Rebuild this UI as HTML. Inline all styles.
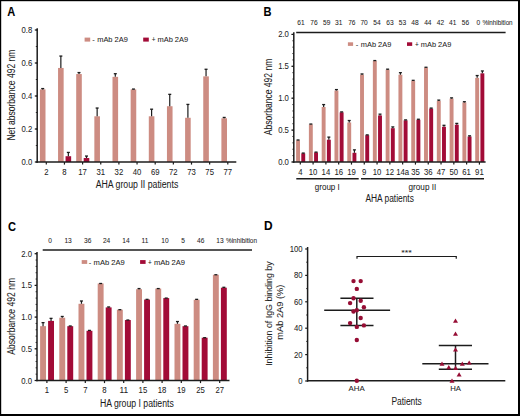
<!DOCTYPE html>
<html><head><meta charset="utf-8"><title>Figure</title>
<style>html,body{margin:0;padding:0;background:#fff;}body{width:520px;height:416px;overflow:hidden;font-family:"Liberation Sans", sans-serif;}svg{display:block;}</style>
</head><body>
<svg width="520" height="416" viewBox="0 0 520 416">
<g font-family='"Liberation Sans", sans-serif'>
<style>text{stroke:#1c1c1c;stroke-width:0.05px;}</style>
<rect x="0.00" y="0.00" width="520.00" height="416.00" fill="#ffffff"/>
<text x="7.20" y="15.90" font-size="12" text-anchor="start" font-weight="bold" fill="#000" textLength="8.00" lengthAdjust="spacingAndGlyphs">A</text>
<line x1="37.20" y1="28.20" x2="37.20" y2="162.75" stroke="#1c1c1c" stroke-width="1.5"/>
<line x1="34.80" y1="162.00" x2="37.20" y2="162.00" stroke="#1c1c1c" stroke-width="1.2"/>
<text x="32.20" y="165.08" font-size="8.6" text-anchor="end" font-weight="normal" fill="#1c1c1c" textLength="10.76" lengthAdjust="spacingAndGlyphs">0.0</text>
<line x1="34.80" y1="129.00" x2="37.20" y2="129.00" stroke="#1c1c1c" stroke-width="1.2"/>
<text x="32.20" y="132.08" font-size="8.6" text-anchor="end" font-weight="normal" fill="#1c1c1c" textLength="10.76" lengthAdjust="spacingAndGlyphs">0.2</text>
<line x1="34.80" y1="96.00" x2="37.20" y2="96.00" stroke="#1c1c1c" stroke-width="1.2"/>
<text x="32.20" y="99.08" font-size="8.6" text-anchor="end" font-weight="normal" fill="#1c1c1c" textLength="10.76" lengthAdjust="spacingAndGlyphs">0.4</text>
<line x1="34.80" y1="63.00" x2="37.20" y2="63.00" stroke="#1c1c1c" stroke-width="1.2"/>
<text x="32.20" y="66.08" font-size="8.6" text-anchor="end" font-weight="normal" fill="#1c1c1c" textLength="10.76" lengthAdjust="spacingAndGlyphs">0.6</text>
<line x1="34.80" y1="30.00" x2="37.20" y2="30.00" stroke="#1c1c1c" stroke-width="1.2"/>
<text x="32.20" y="33.08" font-size="8.6" text-anchor="end" font-weight="normal" fill="#1c1c1c" textLength="10.76" lengthAdjust="spacingAndGlyphs">0.8</text>
<line x1="35.80" y1="162.00" x2="37.20" y2="162.00" stroke="#1c1c1c" stroke-width="0.9"/>
<line x1="35.80" y1="145.50" x2="37.20" y2="145.50" stroke="#1c1c1c" stroke-width="0.9"/>
<line x1="35.80" y1="129.00" x2="37.20" y2="129.00" stroke="#1c1c1c" stroke-width="0.9"/>
<line x1="35.80" y1="112.50" x2="37.20" y2="112.50" stroke="#1c1c1c" stroke-width="0.9"/>
<line x1="35.80" y1="96.00" x2="37.20" y2="96.00" stroke="#1c1c1c" stroke-width="0.9"/>
<line x1="35.80" y1="79.50" x2="37.20" y2="79.50" stroke="#1c1c1c" stroke-width="0.9"/>
<line x1="35.80" y1="63.00" x2="37.20" y2="63.00" stroke="#1c1c1c" stroke-width="0.9"/>
<line x1="35.80" y1="46.50" x2="37.20" y2="46.50" stroke="#1c1c1c" stroke-width="0.9"/>
<line x1="35.80" y1="30.00" x2="37.20" y2="30.00" stroke="#1c1c1c" stroke-width="0.9"/>
<line x1="46.30" y1="162.00" x2="46.30" y2="164.60" stroke="#1c1c1c" stroke-width="1.2"/>
<text x="46.30" y="174.78" font-size="8.6" text-anchor="middle" font-weight="normal" fill="#1c1c1c" textLength="4.30" lengthAdjust="spacingAndGlyphs">2</text>
<line x1="64.45" y1="162.00" x2="64.45" y2="164.60" stroke="#1c1c1c" stroke-width="1.2"/>
<text x="64.45" y="174.78" font-size="8.6" text-anchor="middle" font-weight="normal" fill="#1c1c1c" textLength="4.30" lengthAdjust="spacingAndGlyphs">8</text>
<line x1="82.60" y1="162.00" x2="82.60" y2="164.60" stroke="#1c1c1c" stroke-width="1.2"/>
<text x="82.60" y="174.78" font-size="8.6" text-anchor="middle" font-weight="normal" fill="#1c1c1c" textLength="8.61" lengthAdjust="spacingAndGlyphs">17</text>
<line x1="100.75" y1="162.00" x2="100.75" y2="164.60" stroke="#1c1c1c" stroke-width="1.2"/>
<text x="100.75" y="174.78" font-size="8.6" text-anchor="middle" font-weight="normal" fill="#1c1c1c" textLength="8.61" lengthAdjust="spacingAndGlyphs">31</text>
<line x1="118.90" y1="162.00" x2="118.90" y2="164.60" stroke="#1c1c1c" stroke-width="1.2"/>
<text x="118.90" y="174.78" font-size="8.6" text-anchor="middle" font-weight="normal" fill="#1c1c1c" textLength="8.61" lengthAdjust="spacingAndGlyphs">32</text>
<line x1="137.05" y1="162.00" x2="137.05" y2="164.60" stroke="#1c1c1c" stroke-width="1.2"/>
<text x="137.05" y="174.78" font-size="8.6" text-anchor="middle" font-weight="normal" fill="#1c1c1c" textLength="8.61" lengthAdjust="spacingAndGlyphs">40</text>
<line x1="155.20" y1="162.00" x2="155.20" y2="164.60" stroke="#1c1c1c" stroke-width="1.2"/>
<text x="155.20" y="174.78" font-size="8.6" text-anchor="middle" font-weight="normal" fill="#1c1c1c" textLength="8.61" lengthAdjust="spacingAndGlyphs">69</text>
<line x1="173.35" y1="162.00" x2="173.35" y2="164.60" stroke="#1c1c1c" stroke-width="1.2"/>
<text x="173.35" y="174.78" font-size="8.6" text-anchor="middle" font-weight="normal" fill="#1c1c1c" textLength="8.61" lengthAdjust="spacingAndGlyphs">72</text>
<line x1="191.50" y1="162.00" x2="191.50" y2="164.60" stroke="#1c1c1c" stroke-width="1.2"/>
<text x="191.50" y="174.78" font-size="8.6" text-anchor="middle" font-weight="normal" fill="#1c1c1c" textLength="8.61" lengthAdjust="spacingAndGlyphs">73</text>
<line x1="209.65" y1="162.00" x2="209.65" y2="164.60" stroke="#1c1c1c" stroke-width="1.2"/>
<text x="209.65" y="174.78" font-size="8.6" text-anchor="middle" font-weight="normal" fill="#1c1c1c" textLength="8.61" lengthAdjust="spacingAndGlyphs">75</text>
<line x1="227.80" y1="162.00" x2="227.80" y2="164.60" stroke="#1c1c1c" stroke-width="1.2"/>
<text x="227.80" y="174.78" font-size="8.6" text-anchor="middle" font-weight="normal" fill="#1c1c1c" textLength="8.61" lengthAdjust="spacingAndGlyphs">77</text>
<rect x="39.90" y="89.40" width="5.60" height="72.60" fill="#cd8c82"/>
<line x1="42.70" y1="89.40" x2="42.70" y2="88.58" stroke="#1c1c1c" stroke-width="1.2"/>
<line x1="41.20" y1="88.58" x2="44.20" y2="88.58" stroke="#1c1c1c" stroke-width="1.3"/>
<rect x="58.05" y="67.95" width="5.60" height="94.05" fill="#cd8c82"/>
<line x1="60.85" y1="67.95" x2="60.85" y2="56.07" stroke="#1c1c1c" stroke-width="1.2"/>
<line x1="59.35" y1="56.07" x2="62.35" y2="56.07" stroke="#1c1c1c" stroke-width="1.3"/>
<rect x="65.55" y="156.22" width="5.60" height="5.78" fill="#a20b37"/>
<line x1="68.35" y1="156.22" x2="68.35" y2="152.43" stroke="#1c1c1c" stroke-width="1.2"/>
<line x1="66.85" y1="152.43" x2="69.85" y2="152.43" stroke="#1c1c1c" stroke-width="1.3"/>
<rect x="76.20" y="74.05" width="5.60" height="87.95" fill="#cd8c82"/>
<line x1="79.00" y1="74.05" x2="79.00" y2="72.57" stroke="#1c1c1c" stroke-width="1.2"/>
<line x1="77.50" y1="72.57" x2="80.50" y2="72.57" stroke="#1c1c1c" stroke-width="1.3"/>
<rect x="83.70" y="158.04" width="5.60" height="3.96" fill="#a20b37"/>
<line x1="86.50" y1="158.04" x2="86.50" y2="156.06" stroke="#1c1c1c" stroke-width="1.2"/>
<line x1="85.00" y1="156.06" x2="88.00" y2="156.06" stroke="#1c1c1c" stroke-width="1.3"/>
<rect x="94.35" y="116.29" width="5.60" height="45.71" fill="#cd8c82"/>
<line x1="97.15" y1="116.29" x2="97.15" y2="108.04" stroke="#1c1c1c" stroke-width="1.2"/>
<line x1="95.65" y1="108.04" x2="98.65" y2="108.04" stroke="#1c1c1c" stroke-width="1.3"/>
<rect x="112.50" y="76.86" width="5.60" height="85.14" fill="#cd8c82"/>
<line x1="115.30" y1="76.86" x2="115.30" y2="73.72" stroke="#1c1c1c" stroke-width="1.2"/>
<line x1="113.80" y1="73.72" x2="116.80" y2="73.72" stroke="#1c1c1c" stroke-width="1.3"/>
<rect x="130.65" y="89.40" width="5.60" height="72.60" fill="#cd8c82"/>
<line x1="133.45" y1="89.40" x2="133.45" y2="89.07" stroke="#1c1c1c" stroke-width="1.2"/>
<line x1="131.95" y1="89.07" x2="134.95" y2="89.07" stroke="#1c1c1c" stroke-width="1.3"/>
<rect x="148.80" y="116.29" width="5.60" height="45.71" fill="#cd8c82"/>
<line x1="151.60" y1="116.29" x2="151.60" y2="109.20" stroke="#1c1c1c" stroke-width="1.2"/>
<line x1="150.10" y1="109.20" x2="153.10" y2="109.20" stroke="#1c1c1c" stroke-width="1.3"/>
<rect x="166.95" y="106.23" width="5.60" height="55.77" fill="#cd8c82"/>
<line x1="169.75" y1="106.23" x2="169.75" y2="94.35" stroke="#1c1c1c" stroke-width="1.2"/>
<line x1="168.25" y1="94.35" x2="171.25" y2="94.35" stroke="#1c1c1c" stroke-width="1.3"/>
<rect x="185.10" y="117.78" width="5.60" height="44.22" fill="#cd8c82"/>
<line x1="187.90" y1="117.78" x2="187.90" y2="104.42" stroke="#1c1c1c" stroke-width="1.2"/>
<line x1="186.40" y1="104.42" x2="189.40" y2="104.42" stroke="#1c1c1c" stroke-width="1.3"/>
<rect x="203.25" y="76.36" width="5.60" height="85.64" fill="#cd8c82"/>
<line x1="206.05" y1="76.36" x2="206.05" y2="69.27" stroke="#1c1c1c" stroke-width="1.2"/>
<line x1="204.55" y1="69.27" x2="207.55" y2="69.27" stroke="#1c1c1c" stroke-width="1.3"/>
<rect x="221.40" y="118.28" width="5.60" height="43.72" fill="#cd8c82"/>
<line x1="224.20" y1="118.28" x2="224.20" y2="117.45" stroke="#1c1c1c" stroke-width="1.2"/>
<line x1="222.70" y1="117.45" x2="225.70" y2="117.45" stroke="#1c1c1c" stroke-width="1.3"/>
<line x1="36.60" y1="162.00" x2="236.30" y2="162.00" stroke="#1c1c1c" stroke-width="1.5"/>
<rect x="84.60" y="37.60" width="5.60" height="4.00" fill="#cd8c82"/>
<text x="94.80" y="42.32" font-size="7.6" text-anchor="end" font-weight="normal" fill="#1c1c1c">-</text>
<text x="97.20" y="42.32" font-size="7.6" text-anchor="start" font-weight="normal" fill="#1c1c1c" textLength="30.60" lengthAdjust="spacingAndGlyphs">mAb 2A9</text>
<rect x="143.20" y="37.60" width="5.60" height="4.00" fill="#a20b37"/>
<text x="155.50" y="42.32" font-size="6.46" text-anchor="end" font-weight="normal" fill="#1c1c1c">+</text>
<text x="157.50" y="42.32" font-size="7.6" text-anchor="start" font-weight="normal" fill="#1c1c1c" textLength="30.60" lengthAdjust="spacingAndGlyphs">mAb 2A9</text>
<text x="95.70" y="187.60" font-size="10" text-anchor="start" font-weight="normal" fill="#1c1c1c" textLength="82.60" lengthAdjust="spacingAndGlyphs">AHA group II patients</text>
<text x="0" y="0" font-size="10" text-anchor="middle" fill="#1c1c1c" textLength="91.00" lengthAdjust="spacingAndGlyphs" transform="translate(15.10,95.10) rotate(-90)">Net absorbance 492 nm</text>
<text x="263.50" y="15.70" font-size="12" text-anchor="start" font-weight="bold" fill="#000" textLength="8.00" lengthAdjust="spacingAndGlyphs">B</text>
<line x1="293.80" y1="32.30" x2="293.80" y2="162.75" stroke="#1c1c1c" stroke-width="1.5"/>
<line x1="291.40" y1="162.00" x2="293.80" y2="162.00" stroke="#1c1c1c" stroke-width="1.2"/>
<text x="288.90" y="165.08" font-size="8.6" text-anchor="end" font-weight="normal" fill="#1c1c1c" textLength="10.76" lengthAdjust="spacingAndGlyphs">0.0</text>
<line x1="291.40" y1="130.10" x2="293.80" y2="130.10" stroke="#1c1c1c" stroke-width="1.2"/>
<text x="288.90" y="133.18" font-size="8.6" text-anchor="end" font-weight="normal" fill="#1c1c1c" textLength="10.76" lengthAdjust="spacingAndGlyphs">0.5</text>
<line x1="291.40" y1="98.20" x2="293.80" y2="98.20" stroke="#1c1c1c" stroke-width="1.2"/>
<text x="288.90" y="101.28" font-size="8.6" text-anchor="end" font-weight="normal" fill="#1c1c1c" textLength="10.76" lengthAdjust="spacingAndGlyphs">1.0</text>
<line x1="291.40" y1="66.30" x2="293.80" y2="66.30" stroke="#1c1c1c" stroke-width="1.2"/>
<text x="288.90" y="69.38" font-size="8.6" text-anchor="end" font-weight="normal" fill="#1c1c1c" textLength="10.76" lengthAdjust="spacingAndGlyphs">1.5</text>
<line x1="291.40" y1="34.40" x2="293.80" y2="34.40" stroke="#1c1c1c" stroke-width="1.2"/>
<text x="288.90" y="37.48" font-size="8.6" text-anchor="end" font-weight="normal" fill="#1c1c1c" textLength="10.76" lengthAdjust="spacingAndGlyphs">2.0</text>
<line x1="292.40" y1="162.00" x2="293.80" y2="162.00" stroke="#1c1c1c" stroke-width="0.9"/>
<line x1="292.40" y1="155.62" x2="293.80" y2="155.62" stroke="#1c1c1c" stroke-width="0.9"/>
<line x1="292.40" y1="149.24" x2="293.80" y2="149.24" stroke="#1c1c1c" stroke-width="0.9"/>
<line x1="292.40" y1="142.86" x2="293.80" y2="142.86" stroke="#1c1c1c" stroke-width="0.9"/>
<line x1="292.40" y1="136.48" x2="293.80" y2="136.48" stroke="#1c1c1c" stroke-width="0.9"/>
<line x1="292.40" y1="130.10" x2="293.80" y2="130.10" stroke="#1c1c1c" stroke-width="0.9"/>
<line x1="292.40" y1="123.72" x2="293.80" y2="123.72" stroke="#1c1c1c" stroke-width="0.9"/>
<line x1="292.40" y1="117.34" x2="293.80" y2="117.34" stroke="#1c1c1c" stroke-width="0.9"/>
<line x1="292.40" y1="110.96" x2="293.80" y2="110.96" stroke="#1c1c1c" stroke-width="0.9"/>
<line x1="292.40" y1="104.58" x2="293.80" y2="104.58" stroke="#1c1c1c" stroke-width="0.9"/>
<line x1="292.40" y1="98.20" x2="293.80" y2="98.20" stroke="#1c1c1c" stroke-width="0.9"/>
<line x1="292.40" y1="91.82" x2="293.80" y2="91.82" stroke="#1c1c1c" stroke-width="0.9"/>
<line x1="292.40" y1="85.44" x2="293.80" y2="85.44" stroke="#1c1c1c" stroke-width="0.9"/>
<line x1="292.40" y1="79.06" x2="293.80" y2="79.06" stroke="#1c1c1c" stroke-width="0.9"/>
<line x1="292.40" y1="72.68" x2="293.80" y2="72.68" stroke="#1c1c1c" stroke-width="0.9"/>
<line x1="292.40" y1="66.30" x2="293.80" y2="66.30" stroke="#1c1c1c" stroke-width="0.9"/>
<line x1="292.40" y1="59.92" x2="293.80" y2="59.92" stroke="#1c1c1c" stroke-width="0.9"/>
<line x1="292.40" y1="53.54" x2="293.80" y2="53.54" stroke="#1c1c1c" stroke-width="0.9"/>
<line x1="292.40" y1="47.16" x2="293.80" y2="47.16" stroke="#1c1c1c" stroke-width="0.9"/>
<line x1="292.40" y1="40.78" x2="293.80" y2="40.78" stroke="#1c1c1c" stroke-width="0.9"/>
<line x1="292.40" y1="34.40" x2="293.80" y2="34.40" stroke="#1c1c1c" stroke-width="0.9"/>
<line x1="300.30" y1="162.00" x2="300.30" y2="164.60" stroke="#1c1c1c" stroke-width="1.2"/>
<text x="300.30" y="174.88" font-size="8.6" text-anchor="middle" font-weight="normal" fill="#1c1c1c" textLength="4.30" lengthAdjust="spacingAndGlyphs">4</text>
<line x1="313.09" y1="162.00" x2="313.09" y2="164.60" stroke="#1c1c1c" stroke-width="1.2"/>
<text x="313.09" y="174.88" font-size="8.6" text-anchor="middle" font-weight="normal" fill="#1c1c1c" textLength="8.61" lengthAdjust="spacingAndGlyphs">10</text>
<line x1="325.89" y1="162.00" x2="325.89" y2="164.60" stroke="#1c1c1c" stroke-width="1.2"/>
<text x="325.89" y="174.88" font-size="8.6" text-anchor="middle" font-weight="normal" fill="#1c1c1c" textLength="8.61" lengthAdjust="spacingAndGlyphs">14</text>
<line x1="338.68" y1="162.00" x2="338.68" y2="164.60" stroke="#1c1c1c" stroke-width="1.2"/>
<text x="338.68" y="174.88" font-size="8.6" text-anchor="middle" font-weight="normal" fill="#1c1c1c" textLength="8.61" lengthAdjust="spacingAndGlyphs">16</text>
<line x1="351.48" y1="162.00" x2="351.48" y2="164.60" stroke="#1c1c1c" stroke-width="1.2"/>
<text x="351.48" y="174.88" font-size="8.6" text-anchor="middle" font-weight="normal" fill="#1c1c1c" textLength="8.61" lengthAdjust="spacingAndGlyphs">19</text>
<line x1="364.27" y1="162.00" x2="364.27" y2="164.60" stroke="#1c1c1c" stroke-width="1.2"/>
<text x="364.27" y="174.88" font-size="8.6" text-anchor="middle" font-weight="normal" fill="#1c1c1c" textLength="4.30" lengthAdjust="spacingAndGlyphs">9</text>
<line x1="377.06" y1="162.00" x2="377.06" y2="164.60" stroke="#1c1c1c" stroke-width="1.2"/>
<text x="377.06" y="174.88" font-size="8.6" text-anchor="middle" font-weight="normal" fill="#1c1c1c" textLength="8.61" lengthAdjust="spacingAndGlyphs">10</text>
<line x1="389.86" y1="162.00" x2="389.86" y2="164.60" stroke="#1c1c1c" stroke-width="1.2"/>
<text x="389.86" y="174.88" font-size="8.6" text-anchor="middle" font-weight="normal" fill="#1c1c1c" textLength="8.61" lengthAdjust="spacingAndGlyphs">12</text>
<line x1="402.65" y1="162.00" x2="402.65" y2="164.60" stroke="#1c1c1c" stroke-width="1.2"/>
<text x="402.65" y="174.88" font-size="8.6" text-anchor="middle" font-weight="normal" fill="#1c1c1c" textLength="12.91" lengthAdjust="spacingAndGlyphs">14a</text>
<line x1="415.45" y1="162.00" x2="415.45" y2="164.60" stroke="#1c1c1c" stroke-width="1.2"/>
<text x="415.45" y="174.88" font-size="8.6" text-anchor="middle" font-weight="normal" fill="#1c1c1c" textLength="8.61" lengthAdjust="spacingAndGlyphs">35</text>
<line x1="428.24" y1="162.00" x2="428.24" y2="164.60" stroke="#1c1c1c" stroke-width="1.2"/>
<text x="428.24" y="174.88" font-size="8.6" text-anchor="middle" font-weight="normal" fill="#1c1c1c" textLength="8.61" lengthAdjust="spacingAndGlyphs">36</text>
<line x1="441.03" y1="162.00" x2="441.03" y2="164.60" stroke="#1c1c1c" stroke-width="1.2"/>
<text x="441.03" y="174.88" font-size="8.6" text-anchor="middle" font-weight="normal" fill="#1c1c1c" textLength="8.61" lengthAdjust="spacingAndGlyphs">47</text>
<line x1="453.83" y1="162.00" x2="453.83" y2="164.60" stroke="#1c1c1c" stroke-width="1.2"/>
<text x="453.83" y="174.88" font-size="8.6" text-anchor="middle" font-weight="normal" fill="#1c1c1c" textLength="8.61" lengthAdjust="spacingAndGlyphs">50</text>
<line x1="466.62" y1="162.00" x2="466.62" y2="164.60" stroke="#1c1c1c" stroke-width="1.2"/>
<text x="466.62" y="174.88" font-size="8.6" text-anchor="middle" font-weight="normal" fill="#1c1c1c" textLength="8.61" lengthAdjust="spacingAndGlyphs">61</text>
<line x1="479.42" y1="162.00" x2="479.42" y2="164.60" stroke="#1c1c1c" stroke-width="1.2"/>
<text x="479.42" y="174.88" font-size="8.6" text-anchor="middle" font-weight="normal" fill="#1c1c1c" textLength="8.61" lengthAdjust="spacingAndGlyphs">91</text>
<rect x="296.10" y="140.31" width="3.90" height="21.69" fill="#cd8c82"/>
<line x1="298.05" y1="140.31" x2="298.05" y2="139.99" stroke="#1c1c1c" stroke-width="1.2"/>
<line x1="296.55" y1="139.99" x2="299.55" y2="139.99" stroke="#1c1c1c" stroke-width="1.3"/>
<rect x="301.30" y="153.39" width="3.90" height="8.61" fill="#a20b37"/>
<line x1="303.25" y1="153.39" x2="303.25" y2="153.07" stroke="#1c1c1c" stroke-width="1.2"/>
<line x1="301.75" y1="153.07" x2="304.75" y2="153.07" stroke="#1c1c1c" stroke-width="1.3"/>
<rect x="308.89" y="124.36" width="3.90" height="37.64" fill="#cd8c82"/>
<line x1="310.84" y1="124.36" x2="310.84" y2="124.04" stroke="#1c1c1c" stroke-width="1.2"/>
<line x1="309.34" y1="124.04" x2="312.34" y2="124.04" stroke="#1c1c1c" stroke-width="1.3"/>
<rect x="314.09" y="152.43" width="3.90" height="9.57" fill="#a20b37"/>
<line x1="316.04" y1="152.43" x2="316.04" y2="152.11" stroke="#1c1c1c" stroke-width="1.2"/>
<line x1="314.54" y1="152.11" x2="317.54" y2="152.11" stroke="#1c1c1c" stroke-width="1.3"/>
<rect x="321.69" y="107.00" width="3.90" height="55.00" fill="#cd8c82"/>
<line x1="323.64" y1="107.00" x2="323.64" y2="104.58" stroke="#1c1c1c" stroke-width="1.2"/>
<line x1="322.14" y1="104.58" x2="325.14" y2="104.58" stroke="#1c1c1c" stroke-width="1.3"/>
<rect x="326.89" y="139.73" width="3.90" height="22.27" fill="#a20b37"/>
<line x1="328.84" y1="139.73" x2="328.84" y2="137.12" stroke="#1c1c1c" stroke-width="1.2"/>
<line x1="327.34" y1="137.12" x2="330.34" y2="137.12" stroke="#1c1c1c" stroke-width="1.3"/>
<rect x="334.48" y="90.54" width="3.90" height="71.46" fill="#cd8c82"/>
<line x1="336.43" y1="90.54" x2="336.43" y2="89.59" stroke="#1c1c1c" stroke-width="1.2"/>
<line x1="334.93" y1="89.59" x2="337.93" y2="89.59" stroke="#1c1c1c" stroke-width="1.3"/>
<rect x="339.68" y="112.36" width="3.90" height="49.64" fill="#a20b37"/>
<line x1="341.63" y1="112.36" x2="341.63" y2="111.92" stroke="#1c1c1c" stroke-width="1.2"/>
<line x1="340.13" y1="111.92" x2="343.13" y2="111.92" stroke="#1c1c1c" stroke-width="1.3"/>
<rect x="347.28" y="122.44" width="3.90" height="39.56" fill="#cd8c82"/>
<line x1="349.23" y1="122.44" x2="349.23" y2="120.53" stroke="#1c1c1c" stroke-width="1.2"/>
<line x1="347.73" y1="120.53" x2="350.73" y2="120.53" stroke="#1c1c1c" stroke-width="1.3"/>
<rect x="352.48" y="152.81" width="3.90" height="9.19" fill="#a20b37"/>
<line x1="354.43" y1="152.81" x2="354.43" y2="149.88" stroke="#1c1c1c" stroke-width="1.2"/>
<line x1="352.93" y1="149.88" x2="355.93" y2="149.88" stroke="#1c1c1c" stroke-width="1.3"/>
<rect x="360.07" y="74.72" width="3.90" height="87.28" fill="#cd8c82"/>
<line x1="362.02" y1="74.72" x2="362.02" y2="73.96" stroke="#1c1c1c" stroke-width="1.2"/>
<line x1="360.52" y1="73.96" x2="363.52" y2="73.96" stroke="#1c1c1c" stroke-width="1.3"/>
<rect x="365.27" y="135.20" width="3.90" height="26.80" fill="#a20b37"/>
<line x1="367.22" y1="135.20" x2="367.22" y2="134.88" stroke="#1c1c1c" stroke-width="1.2"/>
<line x1="365.72" y1="134.88" x2="368.72" y2="134.88" stroke="#1c1c1c" stroke-width="1.3"/>
<rect x="372.86" y="60.94" width="3.90" height="101.06" fill="#cd8c82"/>
<line x1="374.81" y1="60.94" x2="374.81" y2="60.56" stroke="#1c1c1c" stroke-width="1.2"/>
<line x1="373.31" y1="60.56" x2="376.31" y2="60.56" stroke="#1c1c1c" stroke-width="1.3"/>
<rect x="378.06" y="115.43" width="3.90" height="46.57" fill="#a20b37"/>
<line x1="380.01" y1="115.43" x2="380.01" y2="114.15" stroke="#1c1c1c" stroke-width="1.2"/>
<line x1="378.51" y1="114.15" x2="381.51" y2="114.15" stroke="#1c1c1c" stroke-width="1.3"/>
<rect x="385.66" y="69.68" width="3.90" height="92.32" fill="#cd8c82"/>
<line x1="387.61" y1="69.68" x2="387.61" y2="69.17" stroke="#1c1c1c" stroke-width="1.2"/>
<line x1="386.11" y1="69.17" x2="389.11" y2="69.17" stroke="#1c1c1c" stroke-width="1.3"/>
<rect x="390.86" y="128.19" width="3.90" height="33.81" fill="#a20b37"/>
<line x1="392.81" y1="128.19" x2="392.81" y2="126.91" stroke="#1c1c1c" stroke-width="1.2"/>
<line x1="391.31" y1="126.91" x2="394.31" y2="126.91" stroke="#1c1c1c" stroke-width="1.3"/>
<rect x="398.45" y="74.72" width="3.90" height="87.28" fill="#cd8c82"/>
<line x1="400.40" y1="74.72" x2="400.40" y2="72.68" stroke="#1c1c1c" stroke-width="1.2"/>
<line x1="398.90" y1="72.68" x2="401.90" y2="72.68" stroke="#1c1c1c" stroke-width="1.3"/>
<rect x="403.65" y="120.34" width="3.90" height="41.66" fill="#a20b37"/>
<line x1="405.60" y1="120.34" x2="405.60" y2="119.89" stroke="#1c1c1c" stroke-width="1.2"/>
<line x1="404.10" y1="119.89" x2="407.10" y2="119.89" stroke="#1c1c1c" stroke-width="1.3"/>
<rect x="411.25" y="80.97" width="3.90" height="81.03" fill="#cd8c82"/>
<line x1="413.20" y1="80.97" x2="413.20" y2="80.34" stroke="#1c1c1c" stroke-width="1.2"/>
<line x1="411.70" y1="80.34" x2="414.70" y2="80.34" stroke="#1c1c1c" stroke-width="1.3"/>
<rect x="416.45" y="119.76" width="3.90" height="42.24" fill="#a20b37"/>
<line x1="418.40" y1="119.76" x2="418.40" y2="119.25" stroke="#1c1c1c" stroke-width="1.2"/>
<line x1="416.90" y1="119.25" x2="419.90" y2="119.25" stroke="#1c1c1c" stroke-width="1.3"/>
<rect x="424.04" y="67.58" width="3.90" height="94.42" fill="#cd8c82"/>
<line x1="425.99" y1="67.58" x2="425.99" y2="67.26" stroke="#1c1c1c" stroke-width="1.2"/>
<line x1="424.49" y1="67.26" x2="427.49" y2="67.26" stroke="#1c1c1c" stroke-width="1.3"/>
<rect x="429.24" y="108.60" width="3.90" height="53.40" fill="#a20b37"/>
<line x1="431.19" y1="108.60" x2="431.19" y2="108.09" stroke="#1c1c1c" stroke-width="1.2"/>
<line x1="429.69" y1="108.09" x2="432.69" y2="108.09" stroke="#1c1c1c" stroke-width="1.3"/>
<rect x="436.83" y="100.88" width="3.90" height="61.12" fill="#cd8c82"/>
<line x1="438.78" y1="100.88" x2="438.78" y2="100.11" stroke="#1c1c1c" stroke-width="1.2"/>
<line x1="437.28" y1="100.11" x2="440.28" y2="100.11" stroke="#1c1c1c" stroke-width="1.3"/>
<rect x="442.03" y="126.72" width="3.90" height="35.28" fill="#a20b37"/>
<line x1="443.98" y1="126.72" x2="443.98" y2="125.31" stroke="#1c1c1c" stroke-width="1.2"/>
<line x1="442.48" y1="125.31" x2="445.48" y2="125.31" stroke="#1c1c1c" stroke-width="1.3"/>
<rect x="449.63" y="98.58" width="3.90" height="63.42" fill="#cd8c82"/>
<line x1="451.58" y1="98.58" x2="451.58" y2="97.88" stroke="#1c1c1c" stroke-width="1.2"/>
<line x1="450.08" y1="97.88" x2="453.08" y2="97.88" stroke="#1c1c1c" stroke-width="1.3"/>
<rect x="454.83" y="124.68" width="3.90" height="37.32" fill="#a20b37"/>
<line x1="456.78" y1="124.68" x2="456.78" y2="123.40" stroke="#1c1c1c" stroke-width="1.2"/>
<line x1="455.28" y1="123.40" x2="458.28" y2="123.40" stroke="#1c1c1c" stroke-width="1.3"/>
<rect x="462.42" y="102.41" width="3.90" height="59.59" fill="#cd8c82"/>
<line x1="464.37" y1="102.41" x2="464.37" y2="101.71" stroke="#1c1c1c" stroke-width="1.2"/>
<line x1="462.87" y1="101.71" x2="465.87" y2="101.71" stroke="#1c1c1c" stroke-width="1.3"/>
<rect x="467.62" y="136.48" width="3.90" height="25.52" fill="#a20b37"/>
<line x1="469.57" y1="136.48" x2="469.57" y2="135.84" stroke="#1c1c1c" stroke-width="1.2"/>
<line x1="468.07" y1="135.84" x2="471.07" y2="135.84" stroke="#1c1c1c" stroke-width="1.3"/>
<rect x="475.22" y="77.85" width="3.90" height="84.15" fill="#cd8c82"/>
<line x1="477.17" y1="77.85" x2="477.17" y2="75.55" stroke="#1c1c1c" stroke-width="1.2"/>
<line x1="475.67" y1="75.55" x2="478.67" y2="75.55" stroke="#1c1c1c" stroke-width="1.3"/>
<rect x="480.42" y="73.32" width="3.90" height="88.68" fill="#a20b37"/>
<line x1="482.37" y1="73.32" x2="482.37" y2="70.96" stroke="#1c1c1c" stroke-width="1.2"/>
<line x1="480.87" y1="70.96" x2="483.87" y2="70.96" stroke="#1c1c1c" stroke-width="1.3"/>
<line x1="293.20" y1="162.00" x2="485.60" y2="162.00" stroke="#1c1c1c" stroke-width="1.5"/>
<line x1="296.20" y1="32.50" x2="505.60" y2="32.50" stroke="#1c1c1c" stroke-width="1.5"/>
<text x="300.90" y="24.86" font-size="6.6" text-anchor="middle" font-weight="normal" fill="#1c1c1c">61</text>
<text x="314.00" y="24.86" font-size="6.6" text-anchor="middle" font-weight="normal" fill="#1c1c1c">76</text>
<text x="326.70" y="24.86" font-size="6.6" text-anchor="middle" font-weight="normal" fill="#1c1c1c">59</text>
<text x="338.70" y="24.86" font-size="6.6" text-anchor="middle" font-weight="normal" fill="#1c1c1c">31</text>
<text x="351.80" y="24.86" font-size="6.6" text-anchor="middle" font-weight="normal" fill="#1c1c1c">76</text>
<text x="364.10" y="24.86" font-size="6.6" text-anchor="middle" font-weight="normal" fill="#1c1c1c">70</text>
<text x="377.00" y="24.86" font-size="6.6" text-anchor="middle" font-weight="normal" fill="#1c1c1c">54</text>
<text x="389.90" y="24.86" font-size="6.6" text-anchor="middle" font-weight="normal" fill="#1c1c1c">63</text>
<text x="402.40" y="24.86" font-size="6.6" text-anchor="middle" font-weight="normal" fill="#1c1c1c">53</text>
<text x="415.00" y="24.86" font-size="6.6" text-anchor="middle" font-weight="normal" fill="#1c1c1c">48</text>
<text x="427.80" y="24.86" font-size="6.6" text-anchor="middle" font-weight="normal" fill="#1c1c1c">44</text>
<text x="440.50" y="24.86" font-size="6.6" text-anchor="middle" font-weight="normal" fill="#1c1c1c">42</text>
<text x="452.70" y="24.86" font-size="6.6" text-anchor="middle" font-weight="normal" fill="#1c1c1c">41</text>
<text x="465.40" y="24.86" font-size="6.6" text-anchor="middle" font-weight="normal" fill="#1c1c1c">56</text>
<text x="478.30" y="24.86" font-size="6.6" text-anchor="middle" font-weight="normal" fill="#1c1c1c">0</text>
<text x="482.40" y="24.86" font-size="6.6" text-anchor="start" font-weight="normal" fill="#1c1c1c" textLength="30.20" lengthAdjust="spacingAndGlyphs">%inhibition</text>
<rect x="347.90" y="42.30" width="5.20" height="3.60" fill="#cd8c82"/>
<text x="358.40" y="46.82" font-size="7.6" text-anchor="end" font-weight="normal" fill="#1c1c1c">-</text>
<text x="360.80" y="46.82" font-size="7.6" text-anchor="start" font-weight="normal" fill="#1c1c1c" textLength="30.50" lengthAdjust="spacingAndGlyphs">mAb 2A9</text>
<rect x="407.00" y="42.30" width="5.20" height="3.60" fill="#a20b37"/>
<text x="418.80" y="46.82" font-size="6.46" text-anchor="end" font-weight="normal" fill="#1c1c1c">+</text>
<text x="420.80" y="46.82" font-size="7.6" text-anchor="start" font-weight="normal" fill="#1c1c1c" textLength="30.50" lengthAdjust="spacingAndGlyphs">mAb 2A9</text>
<line x1="296.30" y1="178.80" x2="358.70" y2="178.80" stroke="#1c1c1c" stroke-width="1.4"/>
<line x1="361.00" y1="178.80" x2="484.00" y2="178.80" stroke="#1c1c1c" stroke-width="1.4"/>
<text x="314.80" y="189.60" font-size="8.4" text-anchor="start" font-weight="normal" fill="#1c1c1c" textLength="25.00" lengthAdjust="spacingAndGlyphs">group I</text>
<text x="408.60" y="189.90" font-size="8.4" text-anchor="start" font-weight="normal" fill="#1c1c1c" textLength="27.60" lengthAdjust="spacingAndGlyphs">group II</text>
<text x="365.40" y="202.40" font-size="10" text-anchor="start" font-weight="normal" fill="#1c1c1c" textLength="48.50" lengthAdjust="spacingAndGlyphs">AHA patients</text>
<text x="0" y="0" font-size="10" text-anchor="middle" fill="#1c1c1c" textLength="76.50" lengthAdjust="spacingAndGlyphs" transform="translate(272.00,96.90) rotate(-90)">Absorbance 492 nm</text>
<text x="8.00" y="230.50" font-size="12" text-anchor="start" font-weight="bold" fill="#000" textLength="8.00" lengthAdjust="spacingAndGlyphs">C</text>
<line x1="37.00" y1="252.00" x2="37.00" y2="381.25" stroke="#1c1c1c" stroke-width="1.5"/>
<line x1="34.60" y1="380.50" x2="37.00" y2="380.50" stroke="#1c1c1c" stroke-width="1.2"/>
<text x="32.00" y="383.58" font-size="8.6" text-anchor="end" font-weight="normal" fill="#1c1c1c" textLength="10.76" lengthAdjust="spacingAndGlyphs">0.0</text>
<line x1="34.60" y1="348.80" x2="37.00" y2="348.80" stroke="#1c1c1c" stroke-width="1.2"/>
<text x="32.00" y="351.88" font-size="8.6" text-anchor="end" font-weight="normal" fill="#1c1c1c" textLength="10.76" lengthAdjust="spacingAndGlyphs">0.5</text>
<line x1="34.60" y1="317.10" x2="37.00" y2="317.10" stroke="#1c1c1c" stroke-width="1.2"/>
<text x="32.00" y="320.18" font-size="8.6" text-anchor="end" font-weight="normal" fill="#1c1c1c" textLength="10.76" lengthAdjust="spacingAndGlyphs">1.0</text>
<line x1="34.60" y1="285.40" x2="37.00" y2="285.40" stroke="#1c1c1c" stroke-width="1.2"/>
<text x="32.00" y="288.48" font-size="8.6" text-anchor="end" font-weight="normal" fill="#1c1c1c" textLength="10.76" lengthAdjust="spacingAndGlyphs">1.5</text>
<line x1="34.60" y1="253.70" x2="37.00" y2="253.70" stroke="#1c1c1c" stroke-width="1.2"/>
<text x="32.00" y="256.78" font-size="8.6" text-anchor="end" font-weight="normal" fill="#1c1c1c" textLength="10.76" lengthAdjust="spacingAndGlyphs">2.0</text>
<line x1="35.60" y1="380.50" x2="37.00" y2="380.50" stroke="#1c1c1c" stroke-width="0.9"/>
<line x1="35.60" y1="374.16" x2="37.00" y2="374.16" stroke="#1c1c1c" stroke-width="0.9"/>
<line x1="35.60" y1="367.82" x2="37.00" y2="367.82" stroke="#1c1c1c" stroke-width="0.9"/>
<line x1="35.60" y1="361.48" x2="37.00" y2="361.48" stroke="#1c1c1c" stroke-width="0.9"/>
<line x1="35.60" y1="355.14" x2="37.00" y2="355.14" stroke="#1c1c1c" stroke-width="0.9"/>
<line x1="35.60" y1="348.80" x2="37.00" y2="348.80" stroke="#1c1c1c" stroke-width="0.9"/>
<line x1="35.60" y1="342.46" x2="37.00" y2="342.46" stroke="#1c1c1c" stroke-width="0.9"/>
<line x1="35.60" y1="336.12" x2="37.00" y2="336.12" stroke="#1c1c1c" stroke-width="0.9"/>
<line x1="35.60" y1="329.78" x2="37.00" y2="329.78" stroke="#1c1c1c" stroke-width="0.9"/>
<line x1="35.60" y1="323.44" x2="37.00" y2="323.44" stroke="#1c1c1c" stroke-width="0.9"/>
<line x1="35.60" y1="317.10" x2="37.00" y2="317.10" stroke="#1c1c1c" stroke-width="0.9"/>
<line x1="35.60" y1="310.76" x2="37.00" y2="310.76" stroke="#1c1c1c" stroke-width="0.9"/>
<line x1="35.60" y1="304.42" x2="37.00" y2="304.42" stroke="#1c1c1c" stroke-width="0.9"/>
<line x1="35.60" y1="298.08" x2="37.00" y2="298.08" stroke="#1c1c1c" stroke-width="0.9"/>
<line x1="35.60" y1="291.74" x2="37.00" y2="291.74" stroke="#1c1c1c" stroke-width="0.9"/>
<line x1="35.60" y1="285.40" x2="37.00" y2="285.40" stroke="#1c1c1c" stroke-width="0.9"/>
<line x1="35.60" y1="279.06" x2="37.00" y2="279.06" stroke="#1c1c1c" stroke-width="0.9"/>
<line x1="35.60" y1="272.72" x2="37.00" y2="272.72" stroke="#1c1c1c" stroke-width="0.9"/>
<line x1="35.60" y1="266.38" x2="37.00" y2="266.38" stroke="#1c1c1c" stroke-width="0.9"/>
<line x1="35.60" y1="260.04" x2="37.00" y2="260.04" stroke="#1c1c1c" stroke-width="0.9"/>
<line x1="35.60" y1="253.70" x2="37.00" y2="253.70" stroke="#1c1c1c" stroke-width="0.9"/>
<line x1="46.90" y1="380.50" x2="46.90" y2="383.10" stroke="#1c1c1c" stroke-width="1.2"/>
<text x="46.90" y="392.98" font-size="8.6" text-anchor="middle" font-weight="normal" fill="#1c1c1c" textLength="4.30" lengthAdjust="spacingAndGlyphs">1</text>
<line x1="66.10" y1="380.50" x2="66.10" y2="383.10" stroke="#1c1c1c" stroke-width="1.2"/>
<text x="66.10" y="392.98" font-size="8.6" text-anchor="middle" font-weight="normal" fill="#1c1c1c" textLength="4.30" lengthAdjust="spacingAndGlyphs">5</text>
<line x1="85.30" y1="380.50" x2="85.30" y2="383.10" stroke="#1c1c1c" stroke-width="1.2"/>
<text x="85.30" y="392.98" font-size="8.6" text-anchor="middle" font-weight="normal" fill="#1c1c1c" textLength="4.30" lengthAdjust="spacingAndGlyphs">7</text>
<line x1="104.50" y1="380.50" x2="104.50" y2="383.10" stroke="#1c1c1c" stroke-width="1.2"/>
<text x="104.50" y="392.98" font-size="8.6" text-anchor="middle" font-weight="normal" fill="#1c1c1c" textLength="4.30" lengthAdjust="spacingAndGlyphs">8</text>
<line x1="123.70" y1="380.50" x2="123.70" y2="383.10" stroke="#1c1c1c" stroke-width="1.2"/>
<text x="123.70" y="392.98" font-size="8.6" text-anchor="middle" font-weight="normal" fill="#1c1c1c" textLength="8.61" lengthAdjust="spacingAndGlyphs">11</text>
<line x1="142.90" y1="380.50" x2="142.90" y2="383.10" stroke="#1c1c1c" stroke-width="1.2"/>
<text x="142.90" y="392.98" font-size="8.6" text-anchor="middle" font-weight="normal" fill="#1c1c1c" textLength="8.61" lengthAdjust="spacingAndGlyphs">15</text>
<line x1="162.10" y1="380.50" x2="162.10" y2="383.10" stroke="#1c1c1c" stroke-width="1.2"/>
<text x="162.10" y="392.98" font-size="8.6" text-anchor="middle" font-weight="normal" fill="#1c1c1c" textLength="8.61" lengthAdjust="spacingAndGlyphs">18</text>
<line x1="181.30" y1="380.50" x2="181.30" y2="383.10" stroke="#1c1c1c" stroke-width="1.2"/>
<text x="181.30" y="392.98" font-size="8.6" text-anchor="middle" font-weight="normal" fill="#1c1c1c" textLength="8.61" lengthAdjust="spacingAndGlyphs">19</text>
<line x1="200.50" y1="380.50" x2="200.50" y2="383.10" stroke="#1c1c1c" stroke-width="1.2"/>
<text x="200.50" y="392.98" font-size="8.6" text-anchor="middle" font-weight="normal" fill="#1c1c1c" textLength="8.61" lengthAdjust="spacingAndGlyphs">25</text>
<line x1="219.70" y1="380.50" x2="219.70" y2="383.10" stroke="#1c1c1c" stroke-width="1.2"/>
<text x="219.70" y="392.98" font-size="8.6" text-anchor="middle" font-weight="normal" fill="#1c1c1c" textLength="8.61" lengthAdjust="spacingAndGlyphs">27</text>
<rect x="40.10" y="326.17" width="5.90" height="54.33" fill="#cd8c82"/>
<line x1="43.05" y1="326.17" x2="43.05" y2="322.62" stroke="#1c1c1c" stroke-width="1.2"/>
<line x1="41.55" y1="322.62" x2="44.55" y2="322.62" stroke="#1c1c1c" stroke-width="1.3"/>
<rect x="48.10" y="320.90" width="5.90" height="59.60" fill="#a20b37"/>
<line x1="51.05" y1="320.90" x2="51.05" y2="318.37" stroke="#1c1c1c" stroke-width="1.2"/>
<line x1="49.55" y1="318.37" x2="52.55" y2="318.37" stroke="#1c1c1c" stroke-width="1.3"/>
<rect x="59.30" y="317.73" width="5.90" height="62.77" fill="#cd8c82"/>
<line x1="62.25" y1="317.73" x2="62.25" y2="316.47" stroke="#1c1c1c" stroke-width="1.2"/>
<line x1="60.75" y1="316.47" x2="63.75" y2="316.47" stroke="#1c1c1c" stroke-width="1.3"/>
<rect x="67.30" y="326.17" width="5.90" height="54.33" fill="#a20b37"/>
<line x1="70.25" y1="326.17" x2="70.25" y2="325.98" stroke="#1c1c1c" stroke-width="1.2"/>
<line x1="68.75" y1="325.98" x2="71.75" y2="325.98" stroke="#1c1c1c" stroke-width="1.3"/>
<rect x="78.50" y="303.79" width="5.90" height="76.71" fill="#cd8c82"/>
<line x1="81.45" y1="303.79" x2="81.45" y2="301.00" stroke="#1c1c1c" stroke-width="1.2"/>
<line x1="79.95" y1="301.00" x2="82.95" y2="301.00" stroke="#1c1c1c" stroke-width="1.3"/>
<rect x="86.50" y="330.79" width="5.90" height="49.71" fill="#a20b37"/>
<line x1="89.45" y1="330.79" x2="89.45" y2="330.41" stroke="#1c1c1c" stroke-width="1.2"/>
<line x1="87.95" y1="330.41" x2="90.95" y2="330.41" stroke="#1c1c1c" stroke-width="1.3"/>
<rect x="97.70" y="283.50" width="5.90" height="97.00" fill="#cd8c82"/>
<line x1="99.15" y1="283.50" x2="102.15" y2="283.50" stroke="#1c1c1c" stroke-width="1.3"/>
<rect x="105.70" y="307.40" width="5.90" height="73.10" fill="#a20b37"/>
<line x1="108.65" y1="307.40" x2="108.65" y2="306.96" stroke="#1c1c1c" stroke-width="1.2"/>
<line x1="107.15" y1="306.96" x2="110.15" y2="306.96" stroke="#1c1c1c" stroke-width="1.3"/>
<rect x="116.90" y="309.68" width="5.90" height="70.82" fill="#cd8c82"/>
<line x1="118.35" y1="309.68" x2="121.35" y2="309.68" stroke="#1c1c1c" stroke-width="1.3"/>
<rect x="124.90" y="320.02" width="5.90" height="60.48" fill="#a20b37"/>
<line x1="126.35" y1="320.02" x2="129.35" y2="320.02" stroke="#1c1c1c" stroke-width="1.3"/>
<rect x="136.10" y="289.20" width="5.90" height="91.30" fill="#cd8c82"/>
<line x1="139.05" y1="289.20" x2="139.05" y2="288.57" stroke="#1c1c1c" stroke-width="1.2"/>
<line x1="137.55" y1="288.57" x2="140.55" y2="288.57" stroke="#1c1c1c" stroke-width="1.3"/>
<rect x="144.10" y="299.54" width="5.90" height="80.96" fill="#a20b37"/>
<line x1="147.05" y1="299.54" x2="147.05" y2="299.35" stroke="#1c1c1c" stroke-width="1.2"/>
<line x1="145.55" y1="299.35" x2="148.55" y2="299.35" stroke="#1c1c1c" stroke-width="1.3"/>
<rect x="155.30" y="288.57" width="5.90" height="91.93" fill="#cd8c82"/>
<line x1="156.75" y1="288.57" x2="159.75" y2="288.57" stroke="#1c1c1c" stroke-width="1.3"/>
<rect x="163.30" y="298.08" width="5.90" height="82.42" fill="#a20b37"/>
<line x1="164.75" y1="298.08" x2="167.75" y2="298.08" stroke="#1c1c1c" stroke-width="1.3"/>
<rect x="174.50" y="323.82" width="5.90" height="56.68" fill="#cd8c82"/>
<line x1="177.45" y1="323.82" x2="177.45" y2="321.54" stroke="#1c1c1c" stroke-width="1.2"/>
<line x1="175.95" y1="321.54" x2="178.95" y2="321.54" stroke="#1c1c1c" stroke-width="1.3"/>
<rect x="182.50" y="326.17" width="5.90" height="54.33" fill="#a20b37"/>
<line x1="185.45" y1="326.17" x2="185.45" y2="325.98" stroke="#1c1c1c" stroke-width="1.2"/>
<line x1="183.95" y1="325.98" x2="186.95" y2="325.98" stroke="#1c1c1c" stroke-width="1.3"/>
<rect x="193.70" y="299.73" width="5.90" height="80.77" fill="#cd8c82"/>
<line x1="196.65" y1="299.73" x2="196.65" y2="299.35" stroke="#1c1c1c" stroke-width="1.2"/>
<line x1="195.15" y1="299.35" x2="198.15" y2="299.35" stroke="#1c1c1c" stroke-width="1.3"/>
<rect x="201.70" y="337.70" width="5.90" height="42.80" fill="#a20b37"/>
<line x1="203.15" y1="337.70" x2="206.15" y2="337.70" stroke="#1c1c1c" stroke-width="1.3"/>
<rect x="212.90" y="274.75" width="5.90" height="105.75" fill="#cd8c82"/>
<line x1="214.35" y1="274.75" x2="217.35" y2="274.75" stroke="#1c1c1c" stroke-width="1.3"/>
<rect x="220.90" y="287.68" width="5.90" height="92.82" fill="#a20b37"/>
<line x1="223.85" y1="287.68" x2="223.85" y2="287.30" stroke="#1c1c1c" stroke-width="1.2"/>
<line x1="222.35" y1="287.30" x2="225.35" y2="287.30" stroke="#1c1c1c" stroke-width="1.3"/>
<line x1="36.40" y1="380.50" x2="229.50" y2="380.50" stroke="#1c1c1c" stroke-width="1.5"/>
<line x1="42.70" y1="250.00" x2="252.00" y2="250.00" stroke="#1c1c1c" stroke-width="1.5"/>
<text x="50.00" y="242.66" font-size="6.6" text-anchor="middle" font-weight="normal" fill="#1c1c1c">0</text>
<text x="68.10" y="242.66" font-size="6.6" text-anchor="middle" font-weight="normal" fill="#1c1c1c">13</text>
<text x="87.70" y="242.66" font-size="6.6" text-anchor="middle" font-weight="normal" fill="#1c1c1c">36</text>
<text x="106.60" y="242.66" font-size="6.6" text-anchor="middle" font-weight="normal" fill="#1c1c1c">24</text>
<text x="125.90" y="242.66" font-size="6.6" text-anchor="middle" font-weight="normal" fill="#1c1c1c">14</text>
<text x="145.00" y="242.66" font-size="6.6" text-anchor="middle" font-weight="normal" fill="#1c1c1c">11</text>
<text x="165.00" y="242.66" font-size="6.6" text-anchor="middle" font-weight="normal" fill="#1c1c1c">10</text>
<text x="183.00" y="242.66" font-size="6.6" text-anchor="middle" font-weight="normal" fill="#1c1c1c">5</text>
<text x="200.75" y="242.66" font-size="6.6" text-anchor="middle" font-weight="normal" fill="#1c1c1c">46</text>
<text x="220.00" y="242.66" font-size="6.6" text-anchor="middle" font-weight="normal" fill="#1c1c1c">13</text>
<text x="226.00" y="242.66" font-size="6.6" text-anchor="start" font-weight="normal" fill="#1c1c1c" textLength="31.00" lengthAdjust="spacingAndGlyphs">%inhibition</text>
<rect x="81.70" y="260.10" width="5.50" height="3.80" fill="#cd8c82"/>
<text x="91.20" y="264.72" font-size="7.6" text-anchor="end" font-weight="normal" fill="#1c1c1c">-</text>
<text x="93.60" y="264.72" font-size="7.6" text-anchor="start" font-weight="normal" fill="#1c1c1c" textLength="31.20" lengthAdjust="spacingAndGlyphs">mAb 2A9</text>
<rect x="140.10" y="260.10" width="5.50" height="3.80" fill="#a20b37"/>
<text x="151.90" y="264.72" font-size="6.46" text-anchor="end" font-weight="normal" fill="#1c1c1c">+</text>
<text x="153.90" y="264.72" font-size="7.6" text-anchor="start" font-weight="normal" fill="#1c1c1c" textLength="31.20" lengthAdjust="spacingAndGlyphs">mAb 2A9</text>
<text x="99.90" y="406.70" font-size="10" text-anchor="start" font-weight="normal" fill="#1c1c1c" textLength="73.90" lengthAdjust="spacingAndGlyphs">HA group I patients</text>
<text x="0" y="0" font-size="10" text-anchor="middle" fill="#1c1c1c" textLength="76.70" lengthAdjust="spacingAndGlyphs" transform="translate(15.00,316.30) rotate(-90)">Absorbance 492 nm</text>
<text x="264.00" y="230.30" font-size="12.2" text-anchor="start" font-weight="bold" fill="#000" textLength="8.60" lengthAdjust="spacingAndGlyphs">D</text>
<line x1="307.60" y1="247.00" x2="307.60" y2="381.75" stroke="#1c1c1c" stroke-width="1.5"/>
<line x1="305.20" y1="381.00" x2="307.60" y2="381.00" stroke="#1c1c1c" stroke-width="1.2"/>
<text x="302.60" y="384.08" font-size="8.6" text-anchor="end" font-weight="normal" fill="#1c1c1c" textLength="4.30" lengthAdjust="spacingAndGlyphs">0</text>
<line x1="305.20" y1="354.60" x2="307.60" y2="354.60" stroke="#1c1c1c" stroke-width="1.2"/>
<text x="302.60" y="357.68" font-size="8.6" text-anchor="end" font-weight="normal" fill="#1c1c1c" textLength="8.61" lengthAdjust="spacingAndGlyphs">20</text>
<line x1="305.20" y1="328.20" x2="307.60" y2="328.20" stroke="#1c1c1c" stroke-width="1.2"/>
<text x="302.60" y="331.28" font-size="8.6" text-anchor="end" font-weight="normal" fill="#1c1c1c" textLength="8.61" lengthAdjust="spacingAndGlyphs">40</text>
<line x1="305.20" y1="301.80" x2="307.60" y2="301.80" stroke="#1c1c1c" stroke-width="1.2"/>
<text x="302.60" y="304.88" font-size="8.6" text-anchor="end" font-weight="normal" fill="#1c1c1c" textLength="8.61" lengthAdjust="spacingAndGlyphs">60</text>
<line x1="305.20" y1="275.40" x2="307.60" y2="275.40" stroke="#1c1c1c" stroke-width="1.2"/>
<text x="302.60" y="278.48" font-size="8.6" text-anchor="end" font-weight="normal" fill="#1c1c1c" textLength="8.61" lengthAdjust="spacingAndGlyphs">80</text>
<line x1="305.20" y1="249.00" x2="307.60" y2="249.00" stroke="#1c1c1c" stroke-width="1.2"/>
<text x="302.60" y="252.08" font-size="8.6" text-anchor="end" font-weight="normal" fill="#1c1c1c" textLength="12.91" lengthAdjust="spacingAndGlyphs">100</text>
<line x1="306.20" y1="367.80" x2="307.60" y2="367.80" stroke="#1c1c1c" stroke-width="0.9"/>
<line x1="306.20" y1="341.40" x2="307.60" y2="341.40" stroke="#1c1c1c" stroke-width="0.9"/>
<line x1="306.20" y1="315.00" x2="307.60" y2="315.00" stroke="#1c1c1c" stroke-width="0.9"/>
<line x1="306.20" y1="288.60" x2="307.60" y2="288.60" stroke="#1c1c1c" stroke-width="0.9"/>
<line x1="306.20" y1="262.20" x2="307.60" y2="262.20" stroke="#1c1c1c" stroke-width="0.9"/>
<line x1="307.00" y1="380.80" x2="505.30" y2="380.80" stroke="#1c1c1c" stroke-width="1.5"/>
<line x1="357.00" y1="256.50" x2="456.25" y2="256.50" stroke="#1c1c1c" stroke-width="1.2"/>
<line x1="357.00" y1="255.90" x2="357.00" y2="258.80" stroke="#1c1c1c" stroke-width="1.2"/>
<line x1="456.25" y1="255.90" x2="456.25" y2="258.80" stroke="#1c1c1c" stroke-width="1.2"/>
<text x="406.60" y="254.60" font-size="8" text-anchor="middle" font-weight="normal" fill="#1c1c1c" textLength="10.60" lengthAdjust="spacingAndGlyphs">***</text>
<line x1="324.20" y1="310.30" x2="390.10" y2="310.30" stroke="#1c1c1c" stroke-width="1.5"/>
<line x1="340.40" y1="298.20" x2="373.50" y2="298.20" stroke="#1c1c1c" stroke-width="1.5"/>
<line x1="340.40" y1="325.40" x2="373.50" y2="325.40" stroke="#1c1c1c" stroke-width="1.5"/>
<line x1="356.80" y1="298.20" x2="356.80" y2="325.40" stroke="#1c1c1c" stroke-width="1.5"/>
<circle cx="353.50" cy="281.10" r="2.2" fill="#960d34"/>
<circle cx="360.70" cy="281.10" r="2.2" fill="#960d34"/>
<circle cx="356.80" cy="288.90" r="2.2" fill="#960d34"/>
<circle cx="353.50" cy="298.20" r="2.2" fill="#960d34"/>
<circle cx="360.70" cy="300.80" r="2.2" fill="#960d34"/>
<circle cx="350.10" cy="303.10" r="2.2" fill="#960d34"/>
<circle cx="363.90" cy="307.20" r="2.2" fill="#960d34"/>
<circle cx="353.50" cy="311.50" r="2.2" fill="#960d34"/>
<circle cx="356.80" cy="310.30" r="2.2" fill="#960d34"/>
<circle cx="360.70" cy="318.00" r="2.2" fill="#960d34"/>
<circle cx="350.10" cy="323.10" r="2.2" fill="#960d34"/>
<circle cx="356.80" cy="326.90" r="2.2" fill="#960d34"/>
<circle cx="363.90" cy="325.40" r="2.2" fill="#960d34"/>
<circle cx="356.80" cy="340.00" r="2.2" fill="#960d34"/>
<circle cx="356.80" cy="380.80" r="2.2" fill="#960d34"/>
<line x1="422.30" y1="363.80" x2="488.50" y2="363.80" stroke="#1c1c1c" stroke-width="1.5"/>
<line x1="438.80" y1="345.40" x2="472.00" y2="345.40" stroke="#1c1c1c" stroke-width="1.5"/>
<line x1="438.80" y1="369.20" x2="472.00" y2="369.20" stroke="#1c1c1c" stroke-width="1.5"/>
<line x1="455.50" y1="345.40" x2="455.50" y2="369.20" stroke="#1c1c1c" stroke-width="1.5"/>
<polygon points="453.00,322.70 458.00,322.70 455.50,318.50" fill="#960d34"/>
<polygon points="453.00,335.70 458.00,335.70 455.50,331.50" fill="#960d34"/>
<polygon points="453.00,351.50 458.00,351.50 455.50,347.30" fill="#960d34"/>
<polygon points="439.50,365.70 444.50,365.70 442.00,361.50" fill="#960d34"/>
<polygon points="446.30,369.20 451.30,369.20 448.80,365.00" fill="#960d34"/>
<polygon points="453.10,370.00 458.10,370.00 455.60,365.80" fill="#960d34"/>
<polygon points="459.80,365.70 464.80,365.70 462.30,361.50" fill="#960d34"/>
<polygon points="466.70,364.60 471.70,364.60 469.20,360.40" fill="#960d34"/>
<polygon points="456.60,376.50 461.60,376.50 459.10,372.30" fill="#960d34"/>
<polygon points="449.50,382.70 454.50,382.70 452.00,378.50" fill="#960d34"/>
<text x="348.50" y="390.80" font-size="7.6" text-anchor="start" font-weight="normal" fill="#1c1c1c" textLength="16.20" lengthAdjust="spacingAndGlyphs">AHA</text>
<text x="450.20" y="390.80" font-size="7.6" text-anchor="start" font-weight="normal" fill="#1c1c1c" textLength="10.80" lengthAdjust="spacingAndGlyphs">HA</text>
<text x="391.40" y="404.50" font-size="10" text-anchor="start" font-weight="normal" fill="#1c1c1c" textLength="30.40" lengthAdjust="spacingAndGlyphs">Patients</text>
<text font-size="9.6" text-anchor="middle" fill="#1c1c1c" textLength="104.5" lengthAdjust="spacingAndGlyphs" transform="translate(272,313.6) rotate(-90)">Inhibition of IgG binding by</text>
<text font-size="9.6" text-anchor="middle" fill="#1c1c1c" textLength="55" lengthAdjust="spacingAndGlyphs" transform="translate(283.2,312.2) rotate(-90)">mAb 2A9 (%)</text>
<rect x="0.00" y="0.00" width="520.00" height="1.20" fill="#000"/>
<rect x="0.00" y="0.00" width="1.20" height="416.00" fill="#000"/>
<rect x="518.00" y="0.00" width="2.00" height="416.00" fill="#000"/>
<rect x="0.00" y="414.00" width="520.00" height="2.00" fill="#000"/>
</g></svg>
</body></html>
